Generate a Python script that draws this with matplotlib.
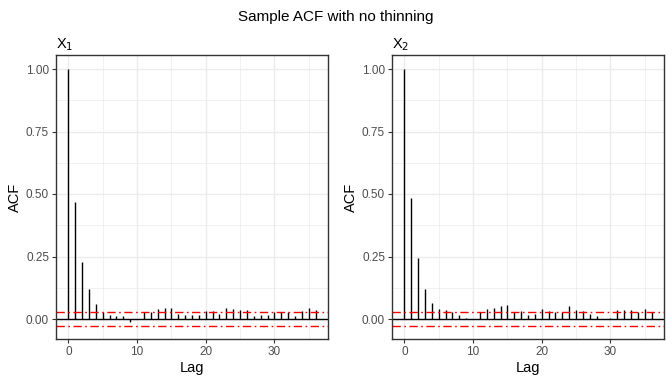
import numpy as np
import matplotlib.pyplot as plt

plt.rcParams['font.family'] = ['Liberation Sans', 'DejaVu Sans']

lags = list(range(37))
acf_x1 = [1.0, 0.47, 0.228, 0.12, 0.06, 0.028, 0.017, 0.013, 0.013, -0.011,
          0.002, 0.028, 0.028, 0.041, 0.045, 0.044, 0.021, 0.017, 0.017, 0.017,
          0.032, 0.032, 0.021, 0.045, 0.041, 0.036, 0.036, 0.013, 0.017, 0.017,
          0.028, 0.028, 0.028, 0.013, 0.032, 0.045, 0.036]
acf_x2 = [1.0, 0.485, 0.245, 0.12, 0.065, 0.041, 0.036, 0.027, 0.017, 0.005,
          0.0, 0.027, 0.041, 0.045, 0.052, 0.057, 0.027, 0.032, 0.017, 0.021,
          0.041, 0.032, 0.027, 0.027, 0.052, 0.036, 0.032, 0.021, 0.013, 0.0,
          0.005, 0.036, 0.036, 0.036, 0.027, 0.041, 0.027]
conf_bound = 0.028
panel_titles = ["X$_1$", "X$_2$"]

fig = plt.figure(figsize=(6.72, 3.84), dpi=100)
W, H = 672, 384
boxes = [(56, 328), (392, 664)]
top, bottom = 55, 339

for (x0, x1), acf, ttl in zip(boxes, [acf_x1, acf_x2], panel_titles):
    ax = fig.add_axes([x0 / W, 1 - bottom / H, (x1 - x0) / W, (bottom - top) / H])
    ax.set_xlim(-1.8, 37.8)
    ax.set_ylim(-0.08, 1.056)
    ax.set_xticks([0, 10, 20, 30])
    ax.set_xticks([5, 15, 25, 35], minor=True)
    ax.set_yticks([0, 0.25, 0.5, 0.75, 1.0])
    ax.set_yticklabels(["0.00", "0.25", "0.50", "0.75", "1.00"])
    ax.set_yticks([0.125, 0.375, 0.625, 0.875], minor=True)
    ax.grid(True, which='major', color='#ebebeb', linewidth=1.0)
    ax.grid(True, which='minor', color='#ebebeb', linewidth=0.5)
    ax.set_axisbelow(True)
    ax.vlines(lags, 0, acf, color='black', linewidth=1.0)
    ax.axhline(0, color='black', linewidth=1.0)
    for b in (conf_bound, -conf_bound):
        ax.axhline(b, color='red', linewidth=1.0, dashes=(6, 2.5, 1.2, 2.5))
    for s in ax.spines.values():
        s.set_color('#333333')
        s.set_linewidth(1.0)
    ax.tick_params(which='major', length=3, color='#333333', labelsize=8.5,
                   labelcolor='#4d4d4d', pad=2)
    ax.tick_params(which='minor', length=0)
    ax.set_xlabel("Lag", fontsize=10.5, labelpad=2)
    ax.set_ylabel("ACF", fontsize=10.5, labelpad=3)
    ax.set_title(ttl, loc='left', fontsize=10.5, pad=5)

fig.suptitle("Sample ACF with no thinning", fontsize=11, y=0.975)
fig.savefig("out.png", dpi=100)
